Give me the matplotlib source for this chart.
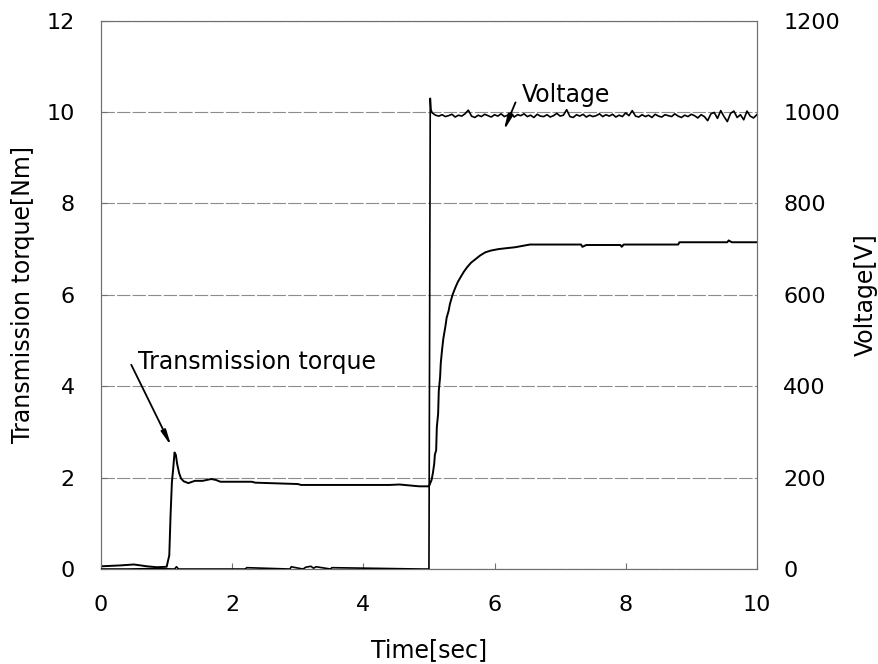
import numpy as np
import matplotlib
matplotlib.use("Agg")
import matplotlib.pyplot as plt

plt.rcParams['font.family'] = ['DejaVu Sans']

# transmission torque [Nm]
torque_t = [0.0, 0.3, 0.5, 0.7, 0.85, 1.0, 1.04, 1.06, 1.08, 1.10, 1.12, 1.14,
            1.16, 1.19, 1.22, 1.26, 1.33, 1.43, 1.55, 1.68, 1.75, 1.82, 2.3,
            2.35, 3.0, 3.05, 4.4, 4.55, 4.85, 5.00, 5.04, 5.06, 5.08, 5.09,
            5.11, 5.12, 5.14, 5.15, 5.17, 5.18, 5.20, 5.22, 5.25, 5.27, 5.30,
            5.32, 5.36, 5.40, 5.44, 5.48, 5.53, 5.58, 5.64, 5.71, 5.78, 5.86,
            5.95, 6.06, 6.18, 6.31, 6.54, 7.32, 7.34, 7.40, 7.92, 7.94, 7.97,
            8.80, 8.82, 9.55, 9.57, 9.62, 10.0]
torque = [0.06, 0.08, 0.10, 0.06, 0.04, 0.05, 0.3, 1.2, 1.9, 2.2, 2.55, 2.5,
          2.3, 2.1, 1.98, 1.92, 1.88, 1.93, 1.93, 1.97, 1.95, 1.91, 1.91,
          1.89, 1.86, 1.84, 1.84, 1.85, 1.81, 1.81, 1.95, 2.1, 2.3, 2.5,
          2.6, 3.1, 3.4, 3.9, 4.2, 4.5, 4.8, 5.05, 5.3, 5.5, 5.65, 5.8,
          6.0, 6.15, 6.28, 6.38, 6.5, 6.6, 6.7, 6.78, 6.86, 6.93, 6.97,
          7.00, 7.02, 7.04, 7.10, 7.10, 7.05, 7.09, 7.09, 7.05, 7.10, 7.10,
          7.15, 7.15, 7.19, 7.15, 7.15]

# voltage [V] before and at the step
volt_t_step = [0.0, 0.4, 0.8, 1.12, 1.15, 1.18, 2.2, 2.22, 2.88, 2.9, 3.08,
               3.12, 3.2, 3.24, 3.28, 3.5, 3.52, 4.9, 5.0, 5.02, 5.03]
volt_step = [0, 0, 1, 0, 5, 0, 0, 3, 0, 5, 0, 4, 6, 2, 5, 0, 3, 0, 0, 1030, 1005]

# voltage [V] after the step, sampled every 0.05 s from 5.05 s
volt_hold = [998, 993, 991, 994, 990, 992, 995, 989, 993, 991,
             996, 1004, 991, 988, 993, 990, 995, 992, 989, 994,
             991, 996, 990, 993, 998, 989, 994, 992, 996, 990,
             993, 988, 995, 991, 990, 994, 989, 992, 997, 991,
             993, 1005, 990, 988, 994, 991, 995, 989, 993, 990,
             992, 996, 990, 994, 991, 995, 989, 993, 990, 998,
             992, 1003, 991, 989, 994, 990, 993, 988, 995, 991,
             989, 994, 992, 990, 996, 991, 988, 993, 990, 995,
             992, 987, 994, 990, 981, 996, 999, 986, 1003, 990,
             979, 997, 1002, 988, 994, 983, 1002, 991, 987, 994]
volt_hold_t = 5.05 + 0.05 * np.arange(len(volt_hold))

volt_t = list(volt_t_step) + list(volt_hold_t)
volt = volt_step + volt_hold

left_ticks = [0, 2, 4, 6, 8, 10, 12]
right_ticks = [0, 200, 400, 600, 800, 1000, 1200]
x_ticks = [0, 2, 4, 6, 8, 10]

fig = plt.figure(figsize=(8.79, 6.64), dpi=100)
ax = fig.add_axes([0.115, 0.143, 0.746, 0.826])
ax2 = ax.twinx()

ax.plot(torque_t, torque, color='black', lw=1.4, zorder=3)
ax2.plot(volt_t, volt, color='black', lw=1.2, zorder=3)

ax.set_xlim(0, 10)
ax.set_ylim(0, 12)
ax2.set_ylim(0, 1200)
ax.set_xticks(x_ticks)
ax.set_yticks(left_ticks)
ax2.set_yticks(right_ticks)

ax.grid(axis='y', color='#8c8c8c', lw=0.8, ls=(0, (12, 2)))
ax.set_axisbelow(True)

for a in (ax, ax2):
    for s in a.spines.values():
        s.set_color('#707070')
        s.set_linewidth(0.8)
ax.tick_params(axis='x', direction='in', length=4, color='#707070',
               labelsize=16, pad=19)
ax.tick_params(axis='y', direction='in', length=4, color='#707070',
               labelsize=16, pad=19)
ax2.tick_params(axis='y', direction='in', length=0, labelsize=16, pad=19)

ax.set_xlabel('Time[sec]', fontsize=17, labelpad=16)
ax.set_ylabel('Transmission torque[Nm]', fontsize=17, labelpad=8)
ax2.set_ylabel('Voltage[V]', fontsize=17, labelpad=10)

arrow = dict(arrowstyle='-|>,head_width=0.15,head_length=0.9', color='black',
             lw=1.3, shrinkA=0, shrinkB=0)
ax.annotate('', xy=(1.07, 2.69), xytext=(0.46, 4.47), arrowprops=arrow)
ax.text(0.57, 4.54, 'Transmission torque', fontsize=17, va='center', ha='left')
ax.annotate('', xy=(6.14, 9.59), xytext=(6.32, 10.21), arrowprops=arrow)
ax.text(6.41, 10.38, 'Voltage', fontsize=17, va='center', ha='left')

fig.savefig('out.png', dpi=100)
